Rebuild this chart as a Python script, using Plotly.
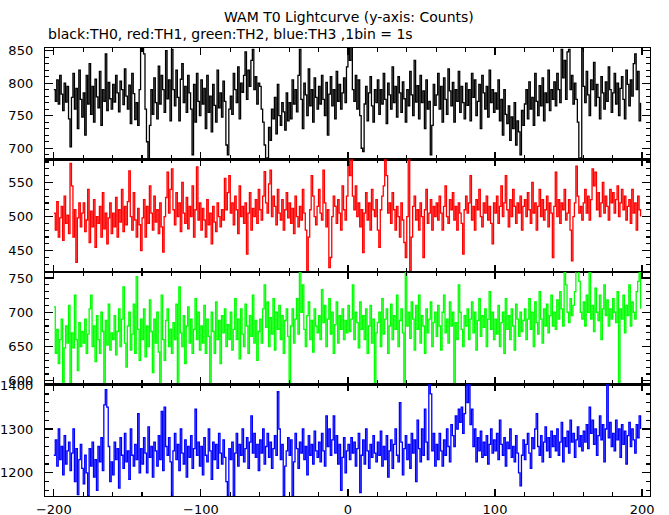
import plotly.graph_objects as go

TITLE = "WAM T0 Lightcurve (y-axis: Counts)"
SUBTITLE = "black:TH0, red:TH1, green:TH2, blue:TH3 ,1bin = 1s"

time_start = -200  # first bin (s), 1 bin = 1 s

th0_black = [
    790, 772, 805, 768, 812, 783, 758, 800, 771, 795, 745, 702, 778, 815, 760, 792, 730, 820, 775, 748,
    785, 720, 812, 768, 830, 752, 795, 740, 806, 779, 762, 818, 735, 790, 772, 845, 758, 801, 776, 760,
    798, 771, 812, 785, 756, 803, 790, 767, 822, 780, 760, 797, 738, 815, 784, 744, 770, 735, 790, 855,
    860, 845, 760, 710, 680, 735, 790, 752, 808, 770, 745, 826, 768, 812, 790, 755, 850, 776, 805, 742,
    852, 790, 765, 820, 778, 742, 806, 830, 770, 795, 755, 812, 785, 760, 690, 798, 740, 815, 772, 750,
    805, 768, 792, 730, 812, 755, 780, 725, 798, 766, 740, 820, 762, 785, 748, 803, 772, 705, 690, 760,
    780, 752, 815, 790, 770, 825, 745, 800, 786, 812, 848, 775, 820, 795, 835, 852, 790, 810, 768, 800,
    795, 760, 740, 705, 683, 685, 732, 712, 760, 745, 778, 722, 798, 750, 735, 770, 756, 728, 785, 742,
    770, 745, 805, 768, 790, 756, 812, 852, 775, 730, 800, 782, 750, 822, 765, 790, 740, 808, 778, 760,
    795, 768, 812, 775, 750, 801, 720, 783, 810, 765, 790, 745, 818, 772, 798, 760, 785, 808, 770, 825,
    858, 835, 860, 790, 772, 812, 760, 805, 750, 700, 695, 768, 795, 742, 785, 810, 765, 740, 790, 770,
    805, 752, 790, 768, 815, 775, 738, 800, 782, 760, 825, 770, 795, 748, 810, 785, 755, 802, 776, 740,
    790, 765, 818, 782, 750, 835, 771, 796, 745, 812, 770, 788, 730, 805, 760, 772, 690, 735, 798, 766,
    782, 815, 760, 795, 740, 808, 775, 752, 822, 788, 765, 801, 740, 790, 772, 818, 755, 795, 770, 745,
    800, 766, 790, 742, 815, 778, 805, 750, 772, 798, 730, 812, 785, 760, 795, 748, 820, 770, 790, 755,
    785, 760, 805, 742, 775, 720, 790, 752, 738, 765, 712, 748, 730, 770, 705, 742, 725, 690, 758, 735,
    768, 790, 745, 802, 760, 778, 735, 815, 772, 750, 796, 765, 808, 742, 785, 770, 820, 758, 790, 775,
    802, 765, 815, 790, 770, 852, 808, 835, 775, 848, 852, 790, 812, 768, 800, 775, 740, 683, 685, 853,
    795, 770, 818, 782, 750, 805, 790, 832, 765, 798, 778, 745, 810, 785, 760, 802, 772, 825, 790, 755,
    785, 815, 768, 800, 750, 792, 810, 775, 745, 820, 798, 765, 805, 780, 830, 845, 790, 818, 742, 770,
]

th1_red = [
    505, 480, 522, 470, 498, 515, 465, 530, 490, 502, 475, 578, 545, 470, 510, 433, 498, 520, 485, 505,
    520, 478, 495, 540, 462, 508, 485, 525, 455, 500, 490, 515, 470, 535, 482, 505, 460, 498, 520, 475,
    505, 485, 528, 470, 510, 492, 540, 478, 515, 488, 522, 567, 500, 480, 535, 495, 470, 512, 488, 450,
    498, 525, 470, 515, 490, 545, 505, 480, 530, 492, 510, 475, 520, 485, 448, 500, 528, 565, 505, 540,
    570, 510, 488, 535, 500, 520, 478, 550, 505, 490, 528, 482, 515, 500, 545, 470, 510, 573, 495, 520,
    480, 512, 495, 470, 525, 488, 505, 460, 515, 492, 478, 520, 500, 485, 510, 495, 556, 510, 535, 560,
    505, 520, 488, 530, 510, 475, 545, 500, 515, 490, 520, 445, 505, 535, 480, 512, 500, 525, 490, 540,
    510, 495, 530, 566, 520, 505, 548, 568, 500, 530, 515, 488, 540, 505, 495, 525, 480, 510, 535, 498,
    520, 490, 512, 475, 530, 500, 485, 515, 495, 540, 505, 480, 419, 470, 510, 560, 530, 500, 488, 515,
    540, 505, 495, 568, 520, 485, 510, 425, 440, 500, 530, 515, 490, 525, 505, 480, 545, 510, 495, 530,
    584, 560, 590, 530, 510, 545, 500, 520, 485, 510, 447, 505, 535, 495, 520, 480, 540, 510, 500, 525,
    480, 455, 510, 530, 545, 590, 560, 505, 520, 490, 535, 510, 480, 515, 500, 470, 520, 495, 462, 440,
    500, 590, 415, 470, 515, 530, 495, 510, 480, 520, 500, 440, 510, 540, 490, 505, 525, 480, 515, 500,
    520, 495, 530, 505, 480, 515, 545, 500, 490, 525, 510, 535, 495, 515, 480, 520, 505, 490, 445, 510,
    530, 505, 520, 560, 495, 515, 480, 525, 510, 540, 500, 485, 520, 505, 530, 495, 515, 490, 460, 520,
    505, 530, 490, 515, 545, 500, 520, 560, 510, 485, 525, 500, 540, 515, 490, 520, 505, 530, 480, 515,
    525, 500, 535, 510, 490, 550, 505, 520, 480, 515, 540, 500, 525, 495, 510, 530, 485, 520, 505, 440,
    515, 565, 500, 525, 490, 520, 510, 540, 495, 505, 525, 480, 435, 500, 520, 574, 530, 505, 515, 495,
    520, 540, 505, 530, 495, 525, 570, 545, 565, 510, 535, 500, 520, 550, 505, 530, 515, 495, 540, 520,
    535, 505, 525, 545, 500, 520, 540, 510, 530, 495, 515, 525, 490, 540, 505, 520, 480, 530, 510, 500,
]

th2_green = [
    708, 640, 675, 625, 660, 690, 592, 648, 680, 655, 710, 592, 670, 648, 725, 660, 615, 685, 650, 672,
    655, 690, 640, 668, 705, 725, 650, 680, 628, 695, 660, 640, 700, 672, 593, 688, 652, 712, 645, 670,
    660, 695, 638, 672, 705, 650, 690, 737, 655, 620, 680, 700, 645, 668, 712, 640, 752, 675, 630, 690,
    660, 705, 635, 680, 650, 718, 672, 612, 690, 655, 700, 642, 593, 725, 660, 630, 688, 705, 650, 675,
    640, 685, 660, 712, 593, 737, 670, 650, 695, 625, 680, 708, 655, 690, 640, 675, 720, 660, 700, 645,
    680, 655, 710, 640, 690, 665, 593, 700, 672, 640, 715, 660, 688, 625, 695, 670, 705, 650, 682, 660,
    700, 645, 675, 720, 660, 690, 632, 705, 668, 650, 712, 680, 640, 695, 665, 725, 655, 688, 630, 672,
    690, 655, 705, 740, 678, 715, 650, 692, 668, 720, 645, 700, 675, 710, 660, 695, 640, 688, 705, 665,
    593, 680, 705, 655, 690, 720, 668, 762, 700, 740, 675, 650, 695, 715, 660, 688, 642, 705, 680, 670,
    695, 660, 733, 685, 710, 650, 690, 720, 668, 700, 640, 682, 715, 655, 695, 675, 705, 660, 688, 670,
    710, 672, 690, 740, 660, 700, 685, 648, 715, 675, 695, 660, 705, 640, 680, 710, 655, 690, 593, 670,
    685, 700, 650, 720, 668, 690, 705, 640, 680, 712, 660, 695, 675, 725, 650, 688, 705, 670, 593, 762,
    680, 700, 662, 715, 690, 645, 710, 675, 725, 655, 695, 680, 640, 705, 670, 690, 715, 650, 685, 700,
    665, 710, 680, 645, 700, 725, 670, 690, 655, 715, 680, 700, 593, 685, 660, 740, 700, 675, 650, 695,
    680, 705, 660, 690, 715, 670, 700, 645, 688, 720, 665, 695, 678, 705, 650, 690, 730, 675, 700, 660,
    690, 668, 710, 650, 685, 700, 640, 720, 675, 695, 660, 705, 680, 645, 712, 690, 665, 700, 672, 688,
    705, 660, 690, 720, 675, 700, 650, 715, 685, 668, 730, 690, 655, 705, 680, 712, 670, 695, 725, 680,
    700, 675, 718, 690, 730, 705, 680, 762, 740, 700, 685, 720, 695, 710, 730, 762, 762, 745, 700, 690,
    715, 680, 725, 700, 762, 690, 710, 672, 735, 700, 688, 725, 660, 705, 740, 695, 718, 680, 705, 690,
    720, 700, 685, 730, 593, 705, 690, 725, 670, 710, 695, 740, 680, 715, 700, 690, 730, 745, 762, 705,
]

th3_blue = [
    1240, 1275, 1215, 1300, 1230, 1260, 1195, 1285, 1220, 1250, 1270, 1205, 1245, 1300, 1180, 1255, 1150, 1230, 1265, 1210,
    1175, 1240, 1200, 1148, 1255, 1215, 1270, 1190, 1230, 1160, 1260, 1225, 1280, 1205, 1355, 1390, 1350, 1260, 1180, 1225,
    1195, 1270, 1230, 1255, 1165, 1280, 1240, 1210, 1290, 1225, 1250, 1185, 1300, 1240, 1215, 1265, 1230, 1335, 1200, 1255,
    1220, 1280, 1245, 1200, 1305, 1235, 1260, 1190, 1270, 1250, 1215, 1285, 1230, 1340, 1205, 1350, 1260, 1240, 1280, 1225,
    1147, 1250, 1290, 1230, 1265, 1205, 1300, 1245, 1220, 1275, 1190, 1260, 1235, 1285, 1210, 1255, 1345, 1240, 1270, 1215,
    1260, 1195, 1280, 1240, 1225, 1300, 1250, 1185, 1270, 1230, 1265, 1210, 1290, 1245, 1220, 1275, 1235, 1180, 1147, 1255,
    1230, 1270, 1147, 1245, 1290, 1215, 1265, 1240, 1300, 1225, 1255, 1280, 1210, 1270, 1330, 1245, 1290, 1235, 1265, 1205,
    1275, 1245, 1300, 1220, 1260, 1290, 1235, 1270, 1210, 1255, 1285, 1240, 1385, 1300, 1230, 1265, 1147, 1215, 1250, 1280,
    1240, 1275, 1147, 1225, 1290, 1255, 1210, 1270, 1245, 1300, 1230, 1260, 1195, 1285, 1240, 1265, 1220, 1295, 1250, 1235,
    1270, 1225, 1290, 1250, 1215, 1330, 1260, 1300, 1240, 1275, 1330, 1245, 1285, 1220, 1265, 1160, 1235, 1280, 1200, 1250,
    1265, 1230, 1280, 1245, 1270, 1215, 1255, 1290, 1155, 1240, 1275, 1220, 1300, 1250, 1210, 1265, 1235, 1285, 1245, 1225,
    1270, 1240, 1295, 1215, 1260, 1230, 1285, 1190, 1250, 1275, 1210, 1265, 1300, 1240, 1225, 1360, 1270, 1195, 1255, 1285,
    1230, 1265, 1210, 1290, 1245, 1275, 1180, 1320, 1255, 1225, 1300, 1240, 1345, 1270, 1230, 1402, 1380, 1250, 1290, 1215,
    1265, 1230, 1290, 1250, 1215, 1275, 1240, 1300, 1260, 1225, 1310, 1285, 1260, 1330, 1300, 1345, 1315, 1350, 1290, 1335,
    1402, 1360, 1402, 1310, 1345, 1260, 1300, 1225, 1280, 1250, 1295, 1235, 1270, 1240, 1285, 1220, 1265, 1300, 1245, 1275,
    1250, 1290, 1230, 1320, 1265, 1240, 1280, 1215, 1270, 1255, 1300, 1235, 1260, 1225, 1285, 1245, 1200, 1170, 1240, 1275,
    1230, 1265, 1290, 1245, 1210, 1280, 1255, 1300, 1335, 1260, 1240, 1285, 1225, 1270, 1305, 1250, 1280, 1235, 1295, 1260,
    1285, 1250, 1300, 1240, 1270, 1315, 1225, 1280, 1260, 1295, 1245, 1320, 1270, 1290, 1235, 1275, 1305, 1260, 1285, 1250,
    1295, 1270, 1310, 1255, 1350, 1290, 1320, 1265, 1300, 1240, 1285, 1330, 1275, 1310, 1225, 1300, 1402, 1280, 1315, 1260,
    1290, 1250, 1320, 1275, 1300, 1235, 1310, 1265, 1295, 1220, 1285, 1315, 1260, 1300, 1275, 1245, 1310, 1280, 1330, 1300,
]

series = [th0_black, th1_red, th2_green, th3_blue]
colors = ["#000000", "#ff0000", "#00ff00", "#0000ff"]
y_ranges = [[683, 854], [419, 584], [595, 759], [1147, 1402]]
y_major = [50, 50, 50, 100]
y_minor = [10, 10, 10, 20]
x_range = [-206, 205.4]

W, H = 669, 515
left_px, right_px = 45, 650
edges_px = [48, 159.3, 271.8, 384.3, 496]
FONT = "DejaVu Sans"

fig = go.Figure()
layout = dict(
    width=W, height=H,
    margin=dict(l=0, r=0, t=0, b=0, pad=0, autoexpand=False),
    paper_bgcolor="white", plot_bgcolor="white",
    showlegend=False,
    font=dict(family=FONT, size=13, color="black"),
)

for i, (vals, col) in enumerate(zip(series, colors)):
    n = i + 1
    sfx = "" if n == 1 else str(n)
    t = [time_start + k for k in range(len(vals))]
    fig.add_trace(go.Scatter(
        x=t, y=vals, mode="lines", line=dict(color=col, width=1.3, shape="hv"),
        xaxis="x" + sfx, yaxis="y" + sfx, hoverinfo="skip",
    ))
    top, bot = edges_px[i], edges_px[i + 1]
    layout["xaxis" + sfx] = dict(
        domain=[left_px / W, right_px / W], range=x_range, anchor="y" + sfx,
        automargin=False,
        showgrid=False, zeroline=False, showline=True, linecolor="black", linewidth=1.2,
        mirror="allticks", ticks="inside", ticklen=7, tickwidth=1.2, tickcolor="black",
        tickmode="linear", tick0=0, dtick=100,
        minor=dict(ticks="inside", ticklen=4, dtick=20, tick0=0, tickcolor="black", showgrid=False),
        showticklabels=(n == 4), ticklabelstandoff=1,
        tickfont=dict(family=FONT, size=13, color="black"),
    )
    layout["yaxis" + sfx] = dict(
        domain=[1 - bot / H, 1 - top / H], range=y_ranges[i], anchor="x" + sfx,
        automargin=False,
        showgrid=False, zeroline=False, showline=True, linecolor="black", linewidth=1.2,
        mirror="allticks", ticks="inside", ticklen=8, tickwidth=1.2, tickcolor="black",
        tickmode="linear", tick0=0, dtick=y_major[i],
        minor=dict(ticks="inside", ticklen=4, dtick=y_minor[i], tick0=0, tickcolor="black", showgrid=False),
        ticklabelstandoff=8,
        tickfont=dict(family=FONT, size=13, color="black"),
    )

layout["annotations"] = [
    dict(text=TITLE, xref="paper", yref="paper", x=349 / W, y=1 - 17 / H,
         xanchor="center", yanchor="middle", showarrow=False,
         font=dict(family=FONT, size=14, color="black")),
    dict(text=SUBTITLE, xref="paper", yref="paper", x=46 / W, y=1 - 34 / H,
         xanchor="left", yanchor="middle", showarrow=False,
         font=dict(family=FONT, size=14, color="black")),
]
fig.update_layout(**layout)
fig.write_html("out.html", config={"displayModeBar": False, "staticPlot": True},
               post_script="document.body.style.margin='0';")
